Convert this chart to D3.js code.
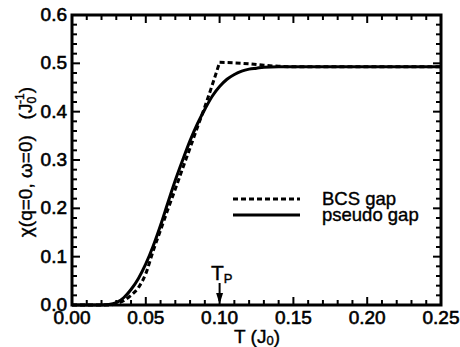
<!DOCTYPE html>
<html>
<head>
<meta charset="utf-8">
<script src="https://cdn.jsdelivr.net/npm/d3@7"></script>
<style>
  body { margin: 0; background: #fff; }
  svg text { font-family: "Liberation Sans", Arial, sans-serif; fill: #000; white-space: pre; }
</style>
</head>
<body>
<div id="chart"></div>
<script>
const width = 460;
const height = 347;
const margin = { top: 15, right: 19, bottom: 42, left: 72 };

// temperatures (J0) and chi values
const bcsT = [0, 0.025, 0.03, 0.035, 0.04, 0.045, 0.05, 0.055, 0.06, 0.065, 0.07, 0.075, 0.08, 0.085, 0.09, 0.095, 0.10];
const bcsChi = [0, 0, 0.003, 0.009, 0.02, 0.036, 0.065, 0.112, 0.155, 0.198, 0.24, 0.283, 0.325, 0.368, 0.41, 0.455, 0.502];
const bcsTailT = [0.10, 0.11, 0.12, 0.13, 0.14, 0.15, 0.25];
const bcsTailChi = [0.502, 0.501, 0.499, 0.496, 0.494, 0.493, 0.493];

const pseudoT = [0, 0.02, 0.025, 0.03, 0.035, 0.04, 0.045, 0.05, 0.055, 0.06, 0.065, 0.07, 0.075, 0.08, 0.085, 0.09, 0.095, 0.10, 0.105, 0.11, 0.115, 0.12, 0.125, 0.13, 0.14, 0.15, 0.25];
const pseudoChi = [0, 0, 0.001, 0.005, 0.015, 0.032, 0.055, 0.085, 0.122, 0.165, 0.212, 0.258, 0.30, 0.34, 0.375, 0.405, 0.432, 0.452, 0.467, 0.477, 0.484, 0.488, 0.490, 0.492, 0.493, 0.493, 0.493];

const xTicks = [0, 0.05, 0.10, 0.15, 0.20, 0.25];
const yTicks = [0, 0.1, 0.2, 0.3, 0.4, 0.5, 0.6];
const legendLabels = ["BCS gap", "pseudo gap"];
const tP = 0.10;

const svg = d3.select("#chart").append("svg")
  .attr("width", width)
  .attr("height", height);

const x = d3.scaleLinear().domain([0, 0.25]).range([margin.left, width - margin.right]);
const y = d3.scaleLinear().domain([0, 0.6]).range([height - margin.bottom, margin.top]);

const x0 = x.range()[0], x1 = x.range()[1];
const y0 = y.range()[0], y1 = y.range()[1];

// minor + major ticks on all four sides, pointing inward
const xMinor = d3.range(0, 0.2501, 0.01);
const yMinor = d3.range(0, 0.6001, 0.02);
const isMajor = (v, step) => Math.abs(v / step - Math.round(v / step)) < 1e-6;

const ticks = svg.append("g").attr("stroke", "#000").attr("stroke-width", 2);
xMinor.forEach(v => {
  const len = isMajor(v, 0.05) ? 8 : 5;
  ticks.append("line").attr("x1", x(v)).attr("x2", x(v)).attr("y1", y0).attr("y2", y0 - len);
  ticks.append("line").attr("x1", x(v)).attr("x2", x(v)).attr("y1", y1).attr("y2", y1 + len);
});
yMinor.forEach(v => {
  const len = isMajor(v, 0.1) ? 8 : 5;
  ticks.append("line").attr("y1", y(v)).attr("y2", y(v)).attr("x1", x0).attr("x2", x0 + len);
  ticks.append("line").attr("y1", y(v)).attr("y2", y(v)).attr("x1", x1).attr("x2", x1 - len);
});

svg.append("rect")
  .attr("x", x0).attr("y", y1)
  .attr("width", x1 - x0).attr("height", y0 - y1)
  .attr("fill", "none").attr("stroke", "#000").attr("stroke-width", 3);

// tick labels
svg.append("g").selectAll("text").data(xTicks).join("text")
  .attr("x", d => x(d)).attr("y", y0 + 19)
  .attr("text-anchor", "middle")
  .attr("font-size", 19).attr("stroke", "#000").attr("stroke-width", 0.6)
  .text(d => d.toFixed(2));

svg.append("g").selectAll("text").data(yTicks).join("text")
  .attr("x", x0 - 5).attr("y", d => y(d) + 6)
  .attr("text-anchor", "end")
  .attr("font-size", 19).attr("stroke", "#000").attr("stroke-width", 0.6)
  .text(d => d.toFixed(1));

// axis titles
const xt = svg.append("text")
  .attr("x", 257).attr("y", height - 4)
  .attr("text-anchor", "middle")
  .attr("font-size", 19).attr("stroke", "#000").attr("stroke-width", 0.4);
xt.append("tspan").text("T (J");
xt.append("tspan").attr("font-size", 13).attr("dy", 2).text("0");
xt.append("tspan").attr("dy", -2).text(")");

const yt = svg.append("text")
  .attr("transform", `translate(32,${(y0 + y1) / 2 + 2}) rotate(-90)`)
  .attr("text-anchor", "middle")
  .attr("font-size", 19).attr("stroke", "#000").attr("stroke-width", 0.4);
yt.append("tspan").text("\u03c7(q=0, \u03c9=0)   (J");
yt.append("tspan").attr("font-size", 12).attr("dy", 4).text("0");
yt.append("tspan").attr("font-size", 12).attr("dx", -7).attr("dy", -12).text("-1");
yt.append("tspan").attr("dy", 8).text(")");

// curves
const line = d3.line().x(d => x(d[0])).y(d => y(d[1])).curve(d3.curveMonotoneX);
const bcsPath = line(d3.zip(bcsT, bcsChi)) + line(d3.zip(bcsTailT, bcsTailChi));

svg.append("path")
  .attr("d", line(d3.zip(pseudoT, pseudoChi)))
  .attr("fill", "none").attr("stroke", "#000").attr("stroke-width", 3);

svg.append("path")
  .attr("d", bcsPath)
  .attr("fill", "none").attr("stroke", "#000").attr("stroke-width", 3)
  .attr("stroke-dasharray", "5,3");

// T_P arrow
const ax = x(tP);
svg.append("line")
  .attr("x1", ax).attr("x2", ax).attr("y1", 283).attr("y2", y0 - 4)
  .attr("stroke", "#000").attr("stroke-width", 2);
svg.append("path")
  .attr("d", `M${ax - 3.5},${y0 - 12}L${ax + 3.5},${y0 - 12}L${ax},${y0 - 1}Z`)
  .attr("fill", "#000");
const tp = svg.append("text")
  .attr("x", 211).attr("y", 280)
  .attr("font-size", 21).attr("stroke", "#000").attr("stroke-width", 0.4);
tp.append("tspan").text("T");
tp.append("tspan").attr("font-size", 13).attr("dy", 3).text("P");

// legend
const legend = svg.append("g");
legendLabels.forEach((label, i) => {
  const ly = 199 + i * 16;
  legend.append("line")
    .attr("x1", 233).attr("x2", 300).attr("y1", ly).attr("y2", ly)
    .attr("stroke", "#000").attr("stroke-width", 3)
    .attr("stroke-dasharray", i === 0 ? "5,3" : null);
  legend.append("text")
    .attr("x", 322).attr("y", ly + 6)
    .attr("font-size", 18.5).attr("stroke", "#000").attr("stroke-width", 0.4)
    .text(label);
});
</script>
</body>
</html>
